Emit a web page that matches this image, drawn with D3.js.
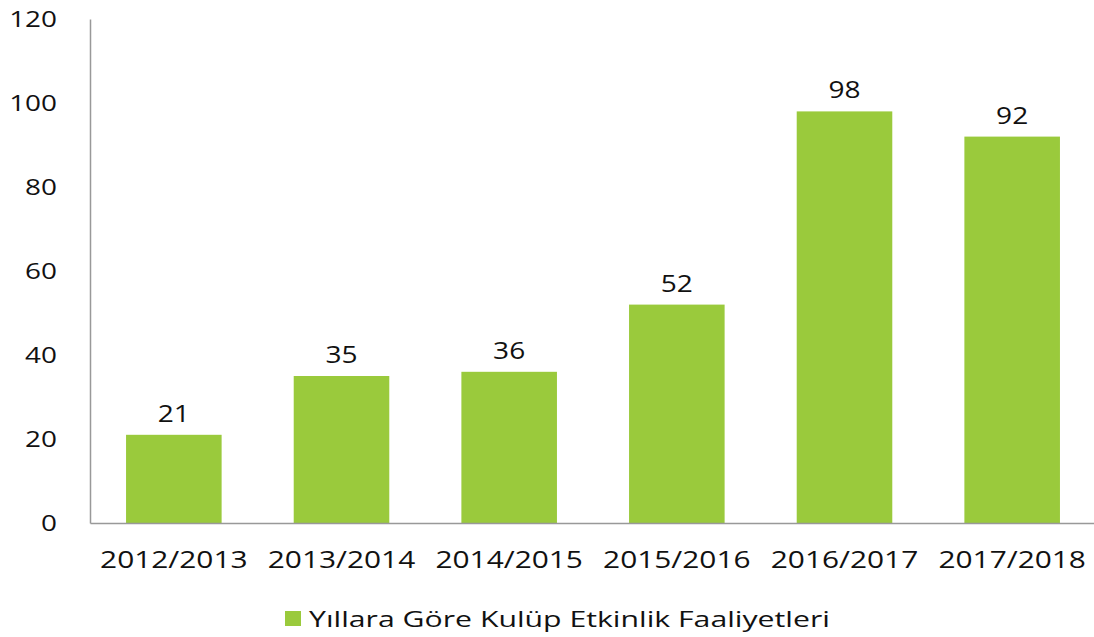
<!DOCTYPE html>
<html><head><meta charset="utf-8">
<script src="https://cdn.jsdelivr.net/npm/d3@7"></script>
<style>body{margin:0;background:#fff}svg{display:block}</style>
</head><body>
<svg id="c" width="1094" height="637"></svg>
<script>
const categories = ["2012/2013","2013/2014","2014/2015","2015/2016","2016/2017","2017/2018"];
const values = [21,35,36,52,98,92];
const yTicks = [0,20,40,60,80,100,120];
const seriesName = "Yıllara Göre Kulüp Etkinlik Faaliyetleri";

const svg = d3.select("#c");
const font = "'Open Sans', 'Noto Sans', sans-serif";
const x = d3.scaleBand().domain(categories).range([90,1096]).paddingInner(0.43).paddingOuter(0.215);
const y = d3.scaleLinear().domain([0,120]).range([523,19]);
const color = "#9aca3c";

svg.selectAll("rect.bar").data(values).enter().append("rect")
  .attr("x",(d,i)=>x(categories[i])).attr("width",x.bandwidth())
  .attr("y",d=>y(d)).attr("height",d=>y(0)-y(d)).attr("fill",color);

// axes
const ySx = 1.33;
const yAxis = svg.append("g").attr("transform","translate(90,0)")
  .call(d3.axisLeft(y).tickValues(yTicks).tickSize(0).tickPadding(33));
yAxis.select(".domain").attr("stroke","#999").attr("stroke-width",1.5);
yAxis.selectAll("text").attr("font-family",font).attr("font-size",21).attr("fill","#111")
  .attr("x",-33/ySx).attr("dy","0.38em").attr("transform",`scale(${ySx},1)`);

const xSx = 1.27;
const xAxis = svg.append("g").attr("transform","translate(0,523)")
  .call(d3.axisBottom(x).tickSize(0).tickPadding(0));
xAxis.select(".domain").attr("stroke","#999").attr("stroke-width",1.5);
xAxis.selectAll("text").attr("font-family",font).attr("font-size",23.5).attr("fill","#111")
  .attr("y",45).attr("dy",0).attr("transform",`scale(${xSx},1)`);

// data labels
const lSx = 1.17;
svg.selectAll("text.lbl").data(values).enter().append("text")
  .attr("transform",(d,i)=>`translate(${x(categories[i])+x.bandwidth()/2},${y(d)-13}) scale(${lSx},1)`)
  .attr("text-anchor","middle").attr("font-family",font).attr("font-size",24).attr("fill","#111")
  .text(d=>d);

// legend
const lg = svg.append("g").attr("transform","translate(285,611)");
lg.append("rect").attr("width",16).attr("height",15).attr("fill",color);
lg.append("text").attr("transform","translate(24,16) scale(1.44,1)")
  .attr("font-family",font).attr("font-size",21).attr("fill","#111").text(seriesName);
</script>
</body></html>
